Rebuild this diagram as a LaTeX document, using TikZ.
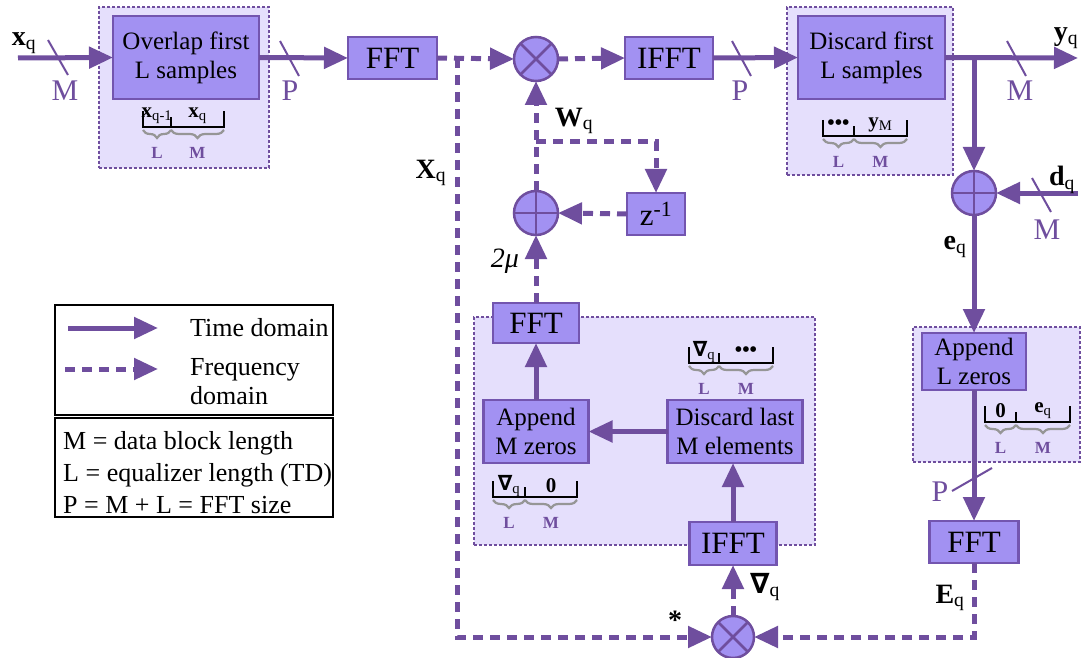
\documentclass[tikz,border=0pt]{standalone}
\usepackage{fontspec}
\setmainfont{Liberation Serif}
\newfontfamily\dvs{DejaVu Sans}
\usetikzlibrary{arrows.meta,decorations.pathreplacing,calc}
\definecolor{lc}{RGB}{111,78,158}
\definecolor{bf}{RGB}{162,145,242}
\definecolor{bd}{RGB}{115,85,175}
\definecolor{cf}{RGB}{229,223,252}
\definecolor{gc}{RGB}{150,150,150}
\newcommand\bvec[2]{\textbf{#1}\textsubscript{#2}}
\newcommand\nab{{\dvs\bfseries ∇}}
\tikzset{
 blk/.style={draw=bd, fill=bf, line width=2.5pt, inner sep=0pt, outer sep=0pt, align=center, font=\fontsize{25}{29}\selectfont},
 fftbox/.style={blk, font=\fontsize{31}{31}\selectfont},
 cont/.style={draw=lc, fill=cf, line width=2pt, dash pattern=on 3pt off 2pt, inner sep=0pt, outer sep=0pt},
 sarr/.style={draw=lc, line width=5pt, -{Triangle[length=24pt,width=21pt]}},
 darr/.style={sarr, dash pattern=on 10pt off 7pt},
 mulc/.style={circle, draw=lc, fill=bf, line width=2.5pt, minimum size=44pt, inner sep=0pt, outer sep=0pt,
   path picture={\draw[lc,line width=2.5pt] (path picture bounding box.north west)--(path picture bounding box.south east) (path picture bounding box.north east)--(path picture bounding box.south west);}},
 addc/.style={circle, draw=lc, fill=bf, line width=2.5pt, minimum size=44pt, inner sep=0pt, outer sep=0pt,
   path picture={\draw[lc,line width=2.5pt] (path picture bounding box.north)--(path picture bounding box.south) (path picture bounding box.east)--(path picture bounding box.west);}},
 sl/.style={draw=lc, line width=2pt},
 plab/.style={text=lc, font=\fontsize{30}{30}\selectfont, inner sep=0pt},
 vlab/.style={font=\fontsize{28}{28}\selectfont, inner sep=0pt},
 brk/.style={draw=black, line width=2.4pt},
 brc/.style={draw=gc, line width=2.2pt, decorate, decoration={brace, mirror, amplitude=8pt}},
 brt/.style={font=\fontsize{21}{21}\selectfont, inner sep=0pt},
 brl/.style={text=lc, font=\fontsize{17}{17}\selectfont\bfseries, inner sep=0pt},
 lgbox/.style={draw=black, line width=2.5pt, inner sep=0pt},
 txt/.style={inner sep=0pt, anchor=west, align=left, font=\fontsize{26}{29}\selectfont},
}
\newcommand\segs[7]{%
 \draw[brk] (#1,#4-16) -- (#1,#4) -- (#3,#4) -- (#3,#4-16);
 \draw[brk] (#2,#4) -- (#2,#4-10);
 \node[brt] (#7a) at ({(#1+#2)/2},#4-11) {#5};
 \node[brt] (#7b) at ({(#2+#3)/2},#4-11) {#6};
 \draw[brc] (#1,#4+3) -- (#2,#4+3);
 \draw[brc] (#2,#4+3) -- (#3,#4+3);
 \node[brl] (#7c) at ({(#1+#2)/2},#4+26) {L};
 \node[brl] (#7d) at ({(#2+#3)/2},#4+26) {M};
}
\begin{document}
\begin{tikzpicture}[x=1pt,y=-1pt]
\useasboundingbox (0,0) rectangle (1082,658);
% containers
\node[cont, minimum width=170pt, minimum height=161pt] (c1) at (184,87.5) {};
\node[cont, minimum width=166pt, minimum height=168pt] (c2) at (870,91) {};
\node[cont, minimum width=167pt, minimum height=135pt] (c3) at (996.5,394.5) {};
\node[cont, minimum width=341pt, minimum height=228pt] (c4) at (644.5,431) {};
% blocks
\node[blk, minimum width=146pt, minimum height=83pt] (overlap) at (186,57.5) {Overlap first\\L samples};
\node[fftbox, minimum width=89pt, minimum height=42pt] (fft1) at (392.5,58) {FFT};
\node[mulc] (mul1) at (536,59) {};
\node[fftbox, minimum width=88pt, minimum height=42pt] (ifft1) at (669,58) {IFFT};
\node[blk, minimum width=147pt, minimum height=83pt] (discard1) at (871.5,57.5) {Discard first\\L samples};
\node[addc] (add2) at (974,193) {};
\node[blk, minimum width=104pt, minimum height=57pt] (appendL) at (974,361.5) {Append\\L zeros};
\node[fftbox, minimum width=89pt, minimum height=42pt] (fft3) at (974,542) {FFT};
\node[mulc, minimum size=42pt] (mul2) at (733,637) {};
\node[fftbox, minimum width=87pt, minimum height=43pt] (ifft2) at (733,543.5) {IFFT};
\node[blk, minimum width=135pt, minimum height=63pt] (discardL) at (735,431.5) {Discard last\\M elements};
\node[blk, minimum width=105pt, minimum height=63pt] (appendM) at (536,431.5) {Append\\M zeros};
\node[fftbox, minimum width=86pt, minimum height=40pt] (fft2) at (536,323) {FFT};
\node[addc] (add1) at (536,213) {};
\node[fftbox, minimum width=58pt, minimum height=42pt] (zinv) at (656,214) {z\textsuperscript{-1}};
% coordinates
\coordinate (xin) at (18,58);
\coordinate (yout) at (1078,58);
\coordinate (j1) at (974,58);
\coordinate (dqin) at (1078,193);
\coordinate (xj) at (457,58);
\coordinate (br) at (536,142);
% connectors
\draw[sarr] (xin) -- (overlap.west);
\draw[sarr] (overlap.east) -- (fft1.west);
\draw[darr] (fft1.east) -- (mul1.west);
\draw[darr] (mul1.east) -- (ifft1.west);
\draw[sarr] (ifft1.east) -- (discard1.west);
\draw[sarr] (discard1.east) -- (yout);
\draw[sarr] (j1) -- (add2.north);
\draw[sarr] (dqin) -- (add2.east);
\draw[sarr] (add2.south) -- (appendL.north);
\draw[sarr] (appendL.south) -- (fft3.north);
\draw[darr] (fft3.south) |- (mul2.east);
\draw[darr] (xj) |- (mul2.west);
\draw[darr] (mul2.north) -- (ifft2.south);
\draw[sarr] (ifft2.north) -- (ifft2.north |- discardL.south);
\draw[sarr] (discardL.west) -- (appendM.east);
\draw[sarr] (appendM.north) -- (fft2.south);
\draw[darr] (fft2.north) -- (add1.south);
\draw[darr] (add1.north) -- (mul1.south);
\draw[darr] (br) -| (zinv.north);
\draw[darr] (zinv.west) -- (add1.east);
% slashes
\draw[sl] (48,40) -- (68,75);
\draw[sl] (280,41) -- (299,76);
\draw[sl] (732,41) -- (751,76);
\draw[sl] (1007,41) -- (1026,76);
\draw[sl] (1032,178) -- (1051,212);
\draw[sl] (952,491) -- (992,468);
% labels
\node[vlab] (lxq) at (24,43) {\bvec{x}{q}};
\node[plab] (lm1) at (65,91) {M};
\node[plab] (lp1) at (290,91) {P};
\node[plab] (lp2) at (740,91) {P};
\node[vlab] (lyq) at (1066,38) {\bvec{y}{q}};
\node[plab] (lm2) at (1020,91) {M};
\node[vlab] (ldq) at (1062,180) {\bvec{d}{q}};
\node[plab] (lm3) at (1047,230) {M};
\node[vlab] (leq) at (955,247) {\bvec{e}{q}};
\node[vlab] (lXq) at (431,173) {\bvec{X}{q}};
\node[vlab] (lWq) at (574,121) {\bvec{W}{q}};
\node[vlab] (lmu) at (505,261) {\textit{2μ}};
\node[plab] (lp3) at (940,492) {P};
\node[vlab] (lEq) at (950,598) {\bvec{E}{q}};
\node[vlab] (lnab) at (765,587) {\nab\textsubscript{q}};
\node[vlab] (lst) at (675,620) {\textbf{*}};
% brackets
\segs{143}{171}{224}{127}{\bvec{x}{q-1}}{\bvec{x}{q}}{b1}
\segs{823}{854}{907}{136}{\textbf{•••}}{\bvec{y}{M}}{b2}
\segs{689}{719}{773}{363}{\nab\textsubscript{q}}{\textbf{•••}}{b3}
\segs{493}{525}{577}{497}{\nab\textsubscript{q}}{\textbf{0}}{b4}
\segs{985}{1016}{1070}{422}{\textbf{0}}{\bvec{e}{q}}{b5}
% legend
\node[lgbox, minimum width=278pt, minimum height=110pt] (lg1) at (194,360) {};
\node[lgbox, minimum width=278pt, minimum height=99pt] (lg2) at (194,467.5) {};
\coordinate (la1) at (68,328);
\coordinate (la2) at (158,328);
\coordinate (lb1) at (65,369);
\coordinate (lb2) at (158,369);
\draw[sarr] (la1) -- (la2);
\draw[darr] (lb1) -- (lb2);
\node[txt] (ltd) at (190,328) {Time domain};
\node[txt] (lfd) at (190,382) {Frequency\\domain};
\node[txt, font=\fontsize{26}{32}\selectfont] (ldef) at (63,473) {M = data block length\\L = equalizer length (TD)\\P = M + L = FFT size};
\end{tikzpicture}
\end{document}
